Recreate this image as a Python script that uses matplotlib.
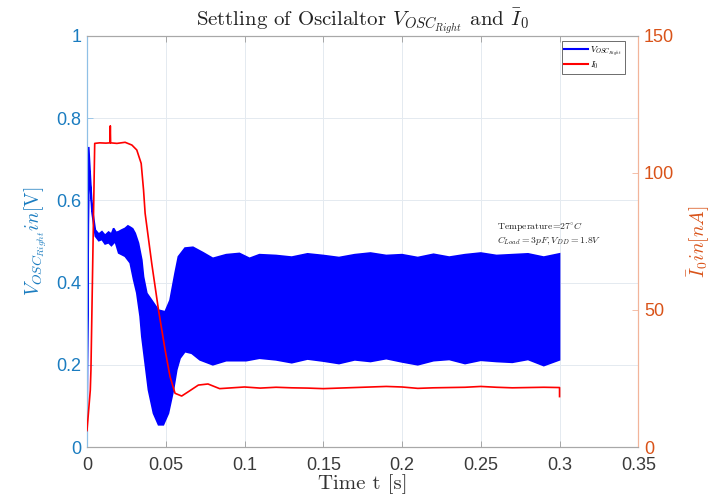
import numpy as np
import matplotlib
matplotlib.use("Agg")
import matplotlib.pyplot as plt
from matplotlib.lines import Line2D

plt.rcParams["mathtext.fontset"] = "cm"
plt.rcParams["font.family"] = ["Liberation Sans", "DejaVu Sans"]
plt.rcParams["axes.unicode_minus"] = False

# V_OSC_Right envelope (upper / lower edge of the dense oscillation)
t_upper = [0.0, 0.0011, 0.0032, 0.0053, 0.0075, 0.0095, 0.0115, 0.0137, 0.0155, 0.0169, 0.0185,
           0.0201, 0.022, 0.0242, 0.026, 0.0274, 0.029, 0.0306, 0.0327, 0.0348, 0.0359, 0.038,
           0.0411, 0.0454, 0.0496, 0.0527, 0.0559, 0.058, 0.0622, 0.0673, 0.0736, 0.0799, 0.0884,
           0.0968, 0.1032, 0.1095, 0.12, 0.13, 0.14, 0.15, 0.16, 0.17, 0.18, 0.19, 0.2, 0.21,
           0.22, 0.23, 0.24, 0.25, 0.26, 0.27, 0.28, 0.29, 0.3]
v_upper = [0.14, 0.73, 0.585, 0.528, 0.518, 0.524, 0.515, 0.523, 0.518, 0.532, 0.522,
           0.524, 0.528, 0.532, 0.538, 0.535, 0.531, 0.52, 0.496, 0.455, 0.414, 0.374,
           0.357, 0.333, 0.329, 0.357, 0.423, 0.463, 0.484, 0.486, 0.473, 0.459, 0.468,
           0.471, 0.459, 0.468, 0.466, 0.462, 0.47, 0.466, 0.461, 0.468, 0.472, 0.466, 0.468, 0.461,
           0.469, 0.462, 0.468, 0.472, 0.466, 0.468, 0.47, 0.462, 0.47]

t_lower = [0.0, 0.0011, 0.0032, 0.0053, 0.0075, 0.0095, 0.0115, 0.0137, 0.0155, 0.0179, 0.0201,
           0.0242, 0.0274, 0.0296, 0.0316, 0.0337, 0.0348, 0.0369, 0.039, 0.0422, 0.0454,
           0.0485, 0.0517, 0.0549, 0.057, 0.0591, 0.0622, 0.0665, 0.0717, 0.0799, 0.0884,
           0.1011, 0.1095, 0.12, 0.13, 0.14, 0.15, 0.16, 0.17, 0.18, 0.19, 0.2, 0.21,
           0.22, 0.23, 0.24, 0.25, 0.26, 0.27, 0.28, 0.29, 0.3]
v_lower = [0.0, 0.69, 0.57, 0.513, 0.502, 0.505, 0.494, 0.497, 0.49, 0.5, 0.472,
           0.464, 0.448, 0.407, 0.375, 0.318, 0.269, 0.204, 0.139, 0.082, 0.054,
           0.054, 0.082, 0.139, 0.188, 0.216, 0.232, 0.228, 0.212, 0.2, 0.21,
           0.21, 0.216, 0.212, 0.205, 0.214, 0.209, 0.203, 0.212, 0.208, 0.215, 0.207, 0.2,
           0.21, 0.213, 0.203, 0.211, 0.208, 0.206, 0.213, 0.198, 0.212]

# I0 bias current [nA]
t_i0 = [0.0, 0.0021, 0.0025, 0.0049, 0.008, 0.012, 0.0146, 0.0148, 0.015, 0.019, 0.0242,
        0.0285, 0.0316, 0.0344, 0.0359, 0.0369, 0.0411, 0.0454, 0.0496, 0.0527, 0.0559,
        0.0601, 0.0644, 0.0707, 0.0768, 0.0842, 0.1, 0.11, 0.12, 0.13, 0.14, 0.15, 0.16,
        0.17, 0.18, 0.19, 0.2, 0.21, 0.22, 0.23, 0.24, 0.25, 0.26, 0.27, 0.28, 0.29, 0.3, 0.3]
i0 = [6.0, 20.8, 28.0, 110.8, 111.0, 110.9, 111.0, 117.2, 111.0, 110.8, 111.2,
      110.2, 108.4, 103.5, 93.8, 85.3, 67.0, 50.0, 35.4, 25.7, 19.6,
      18.6, 20.2, 22.6, 23.0, 21.3, 21.9, 21.5, 21.8, 21.6, 21.5, 21.3, 21.5,
      21.7, 21.9, 22.1, 21.9, 21.4, 21.6, 21.7, 21.8, 22.1, 21.8, 21.6, 21.7, 21.8, 21.7, 18.4]

x_ticks = [0, 0.05, 0.1, 0.15, 0.2, 0.25, 0.3, 0.35]
x_labels = ["0", "0.05", "0.1", "0.15", "0.2", "0.25", "0.3", "0.35"]
left_ticks = [0, 0.2, 0.4, 0.6, 0.8, 1.0]
left_labels = ["0", "0.2", "0.4", "0.6", "0.8", "1"]
right_ticks = [0, 50, 100, 150]
right_labels = ["0", "50", "100", "150"]

blue_c = "#1a7cc0"
orange_c = "#D95319"
serif = "cmr10"

fig = plt.figure(figsize=(7.16, 4.97), dpi=100)
ax = fig.add_axes([0.1215, 0.1006, 0.7700, 0.8270])
ax2 = ax.twinx()

ax.fill(np.r_[t_upper, t_lower[::-1]], np.r_[v_upper, v_lower[::-1]],
        facecolor="#0000FF", edgecolor="#0000FF", linewidth=1.2, zorder=2)
ax2.plot(t_i0, i0, color="#FF0000", linewidth=1.2, zorder=3)

ax.set_xlim(0, 0.35)
ax.set_ylim(0, 1)
ax2.set_ylim(0, 150)
ax.set_xticks(x_ticks)
ax.set_xticklabels(x_labels)
ax.set_yticks(left_ticks)
ax.set_yticklabels(left_labels)
ax2.set_yticks(right_ticks)
ax2.set_yticklabels(right_labels)

ax.grid(True, color="#e4eaf0", linewidth=0.7, zorder=0)
ax.set_axisbelow(True)

ax.tick_params(axis="x", direction="in", length=4, width=0.6, colors="#9a9a9a",
               labelcolor="#3a3a3a", labelsize=13, pad=7, top=True)
ax.tick_params(axis="y", direction="in", length=4, width=0.6, colors="#8fc0e6",
               labelcolor=blue_c, labelsize=13, pad=4)
ax2.tick_params(axis="y", direction="in", length=4, width=0.6, colors="#f2b49a",
                labelcolor=orange_c, labelsize=13, pad=4)

for a in (ax, ax2):
    a.spines["top"].set_color("#a8a8a8")
    a.spines["bottom"].set_color("#a8a8a8")
    a.spines["left"].set_color("#8fc0e6")
    a.spines["right"].set_color("#f2b49a")
    for s in a.spines.values():
        s.set_linewidth(0.8)

ax.set_title(r"Settling of Oscilaltor $V_{OSC_{Right}}$ and $\bar{I}_0$",
             fontfamily=serif, fontsize=15, color="#222222", pad=6)
ax.set_xlabel("Time t [s]", fontfamily=serif, fontsize=15, color="#333333", labelpad=0)
ax.set_ylabel(r"$V_{OSC_{Right}} in [\mathrm{V}]$", fontsize=14, color=blue_c, labelpad=5)
ax2.set_ylabel(r"$\bar{I}_0 in [nA]$", fontsize=14, color=orange_c, labelpad=8)

ax.text(0.26, 0.537, r"Temperature=27$^{\circ}C$", fontfamily=serif, fontsize=7,
        color="#222222", va="center")
ax.text(0.26, 0.502, r"$C_{Load}=3pF,V_{DD}=1.8V$", fontsize=7, color="#222222", va="center")

handles = [Line2D([], [], color="#0000FF", linewidth=1.5),
           Line2D([], [], color="#FF0000", linewidth=1.5)]
leg = ax2.legend(handles, [r"$V_{OSC_{Right}}$", r"$I_0$"], loc="upper right",
                 fontsize=6.5, frameon=True, fancybox=False, edgecolor="#555555",
                 framealpha=1, borderaxespad=0.6, handlelength=2.6, borderpad=0.3,
                 labelspacing=0.2, handletextpad=0.3, bbox_to_anchor=(0.985, 1.0))
leg.get_frame().set_linewidth(0.6)

fig.savefig("out.png", dpi=100)
